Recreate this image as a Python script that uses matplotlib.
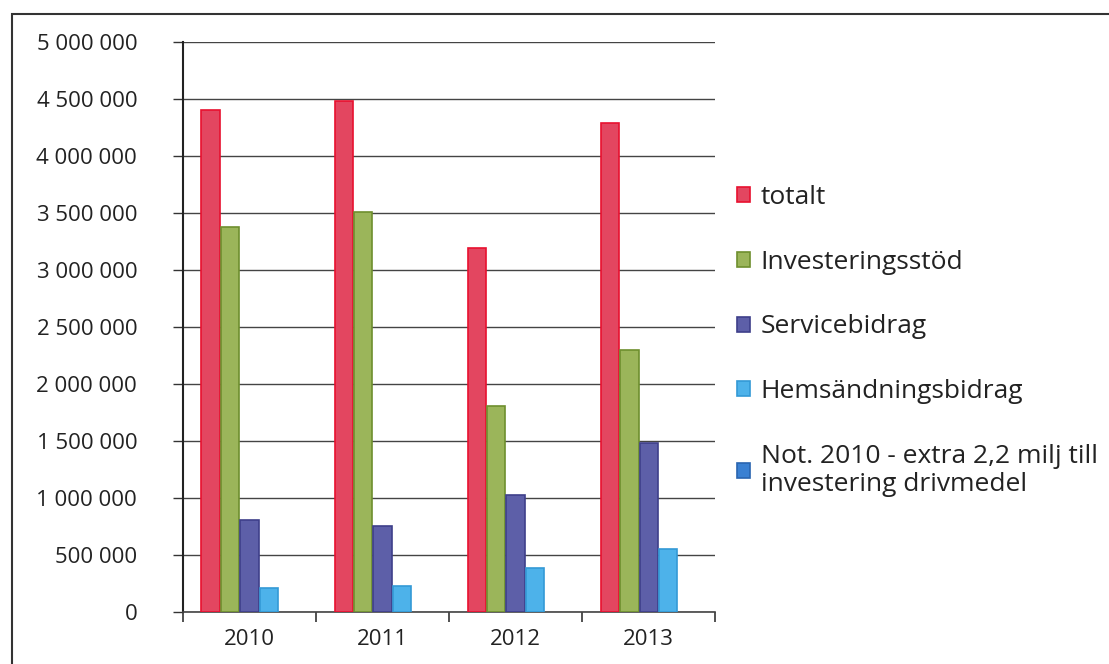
import numpy as np
import matplotlib
matplotlib.use("Agg")
import matplotlib.pyplot as plt
from matplotlib.ticker import FuncFormatter
from matplotlib.patches import Rectangle

# data
years = ["2010", "2011", "2012", "2013"]
totalt = [4400000, 4480000, 3190000, 4290000]
investeringsstod = [3380000, 3510000, 1810000, 2300000]
servicebidrag = [810000, 760000, 1030000, 1480000]
hemsandningsbidrag = [210000, 230000, 390000, 550000]
not_2010 = [np.nan, np.nan, np.nan, np.nan]

series = [
    ("totalt", totalt, "#E34660", "#E8112F"),
    ("Investeringsstöd", investeringsstod, "#9BB55A", "#6E8F2E"),
    ("Servicebidrag", servicebidrag, "#5D5FA8", "#3E3F8A"),
    ("Hemsändningsbidrag", hemsandningsbidrag, "#4DB2EA", "#3399D6"),
    ("Not. 2010 - extra 2,2 milj till\ninvestering drivmedel", not_2010, "#3A80D2", "#2A65B0"),
]

plt.rcParams['font.family'] = ['Open Sans', 'DejaVu Sans']

fig = plt.figure(figsize=(11.09, 6.64), dpi=100)
ax = fig.add_axes([0.165, 0.078, 0.48, 0.859])

x = np.arange(len(years))
w = 0.146
for i, (name, vals, fc, ec) in enumerate(series):
    ax.bar(x - 2 * w + i * w, vals, w * 0.95, color=fc, edgecolor=ec,
           linewidth=1.2, label=name, zorder=3)

ax.set_xlim(-0.5, 3.5)
ax.set_ylim(0, 5000000)
ax.set_yticks(np.arange(0, 5000001, 500000))
ax.yaxis.set_major_formatter(FuncFormatter(lambda v, p: f"{int(v):,}".replace(",", " ")))
ax.set_xticks(x)
ax.set_xticklabels(years)
ax.set_xticks(np.arange(-0.5, 4, 1), minor=True)
ax.tick_params(axis="x", which="major", length=0, labelsize=16, pad=12)
ax.tick_params(axis="x", which="minor", length=7, width=1.2, color="#333333", direction="out")
ax.tick_params(axis="y", length=7, width=1, color="#333333", labelsize=16, pad=26)
for t in ax.get_yticklabels() + ax.get_xticklabels():
    t.set_color("#222222")

ax.grid(axis="y", color="#444444", linewidth=1, zorder=0)
for s in ["top", "right"]:
    ax.spines[s].set_visible(False)
ax.spines["left"].set_color("#222222")
ax.spines["left"].set_linewidth(1.5)
ax.spines["bottom"].set_color("#444444")
ax.spines["bottom"].set_linewidth(1.2)

leg = fig.legend(loc="center left", bbox_to_anchor=(0.643, 0.486), frameon=False,
                 fontsize=19, labelspacing=1.5, handlelength=0.5, handleheight=0.5,
                 handletextpad=0.4)
for t in leg.get_texts():
    t.set_color("#222222")

# outer chart frame
fig.patches.append(Rectangle((12 / 1109, -0.01), 1.05, 1 - 14 / 664 + 0.01,
                             transform=fig.transFigure, fill=False,
                             edgecolor="#333333", linewidth=1.5))

fig.savefig("out.png", dpi=100)
